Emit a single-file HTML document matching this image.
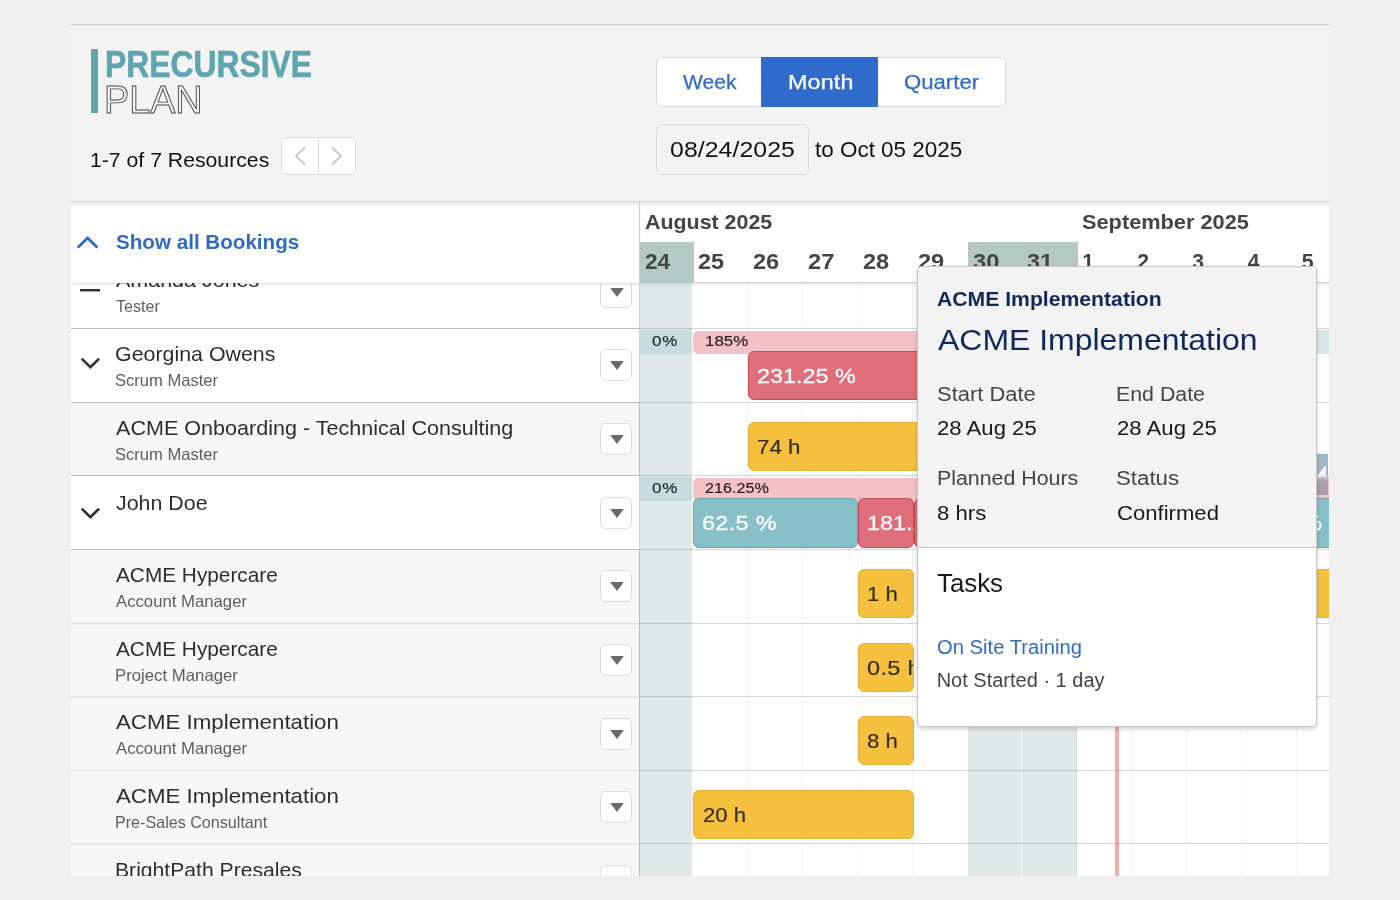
<!DOCTYPE html>
<html lang="en">
<head>
<meta charset="utf-8">
<title>Precursive Plan</title>
<style>
*{box-sizing:border-box;margin:0;padding:0}
html,body{width:1400px;height:900px;overflow:hidden}
body{background:#f0f0f0;font-family:"Liberation Sans",sans-serif;position:relative}
.layer{position:absolute;left:0;top:0;width:1400px;height:900px;overflow:hidden}
.layer>div,.layer>span,.layer>svg{position:absolute}
.t{white-space:nowrap;display:block;transform-origin:0 50%}
#rows{clip-path:inset(202px 71px 24px 71px)}
#header{clip-path:inset(24px 71px 24px 71px)}
.bar{border-radius:6px;border:1px solid}
.btn{background:#fff;border:1px solid #dcdcdc;border-radius:6px}

</style>
</head>
<body>
<div class="layer" id="panel">
<div style="left:71px;top:24px;width:1258px;height:852px;background:#f3f3f3;border-top:1px solid #cdcdcd;"></div>
<div style="left:71px;top:201px;width:1258px;height:675px;background:#fff;border-top:1px solid #d9d9d9;box-shadow:inset 0 4px 4px -2px rgba(0,0,0,.13);"></div>
</div>
<div class="layer" id="rows">
<div style="left:640px;top:283px;width:52px;height:593px;background:#e0e9e8;"></div>
<div style="left:968px;top:283px;width:109px;height:593px;background:#e0e9e8;"></div>
<div style="left:747px;top:283px;width:1px;height:593px;background:#f3f3f3;"></div>
<div style="left:802px;top:283px;width:1px;height:593px;background:#f3f3f3;"></div>
<div style="left:857px;top:283px;width:1px;height:593px;background:#f3f3f3;"></div>
<div style="left:912px;top:283px;width:1px;height:593px;background:#f3f3f3;"></div>
<div style="left:1021px;top:283px;width:1px;height:593px;background:#f1f5f5;"></div>
<div style="left:1076px;top:283px;width:1px;height:593px;background:#d9dedd;"></div>
<div style="left:1131px;top:283px;width:1px;height:593px;background:#f3f3f3;"></div>
<div style="left:1186px;top:283px;width:1px;height:593px;background:#f3f3f3;"></div>
<div style="left:1241px;top:283px;width:1px;height:593px;background:#f3f3f3;"></div>
<div style="left:1296px;top:283px;width:1px;height:593px;background:#f3f3f3;"></div>
<div style="left:1115px;top:283px;width:4px;height:593px;background:#f2adab;"></div>
<div style="left:71px;top:255px;width:569px;height:74px;background:#ffffff;"></div>
<div style="left:71px;top:328px;width:569px;height:76px;background:#ffffff;"></div>
<div style="left:71px;top:403px;width:569px;height:74px;background:#f7f7f7;"></div>
<div style="left:71px;top:476px;width:569px;height:75px;background:#ffffff;"></div>
<div style="left:71px;top:550px;width:569px;height:75px;background:#f7f7f7;"></div>
<div style="left:71px;top:624px;width:569px;height:74px;background:#f7f7f7;"></div>
<div style="left:71px;top:697px;width:569px;height:75px;background:#f7f7f7;"></div>
<div style="left:71px;top:771px;width:569px;height:74px;background:#f7f7f7;"></div>
<div style="left:71px;top:844px;width:569px;height:33px;background:#f7f7f7;"></div>
<div style="left:71px;top:328px;width:569px;height:1px;background:#bebebe;"></div>
<div style="left:640px;top:328px;width:689px;height:1px;background:rgba(0,0,0,.155);"></div>
<span class="t" style="left:116.26px;top:269.00px;font-size:21px;line-height:21px;color:#2e2e2e;transform:scaleX(1.0226);">Amanda Jones</span>
<span class="t" style="left:116.21px;top:298.00px;font-size:16.5px;line-height:16.5px;color:#5e5e5e;transform:scaleX(0.9741);">Tester</span>
<div class="btn" style="left:600px;top:276px;width:32px;height:32px"></div>
<svg style="left:609.6px;top:288px" width="14" height="9" viewBox="0 0 14 9"><path d="M0.2 0 H13.8 L7 9 Z" fill="#6a6a6a"/></svg>
<div style="left:80px;top:289px;width:20px;height:2px;background:#333;"></div>
<div style="left:80px;top:291px;width:20px;height:1px;background:rgba(51,51,51,.45);"></div>
<div style="left:71px;top:402px;width:569px;height:1px;background:#bebebe;"></div>
<div style="left:640px;top:402px;width:689px;height:1px;background:rgba(0,0,0,.155);"></div>
<span class="t" style="left:115.31px;top:343.00px;font-size:21px;line-height:21px;color:#2e2e2e;transform:scaleX(1.0182);">Georgina Owens</span>
<span class="t" style="left:115.37px;top:372.00px;font-size:16.5px;line-height:16.5px;color:#5e5e5e;transform:scaleX(1.0029);">Scrum Master</span>
<div class="btn" style="left:600px;top:349px;width:32px;height:32px"></div>
<svg style="left:609.6px;top:361px" width="14" height="9" viewBox="0 0 14 9"><path d="M0.2 0 H13.8 L7 9 Z" fill="#6a6a6a"/></svg>
<svg style="left:80px;top:357.1px" width="21" height="13" viewBox="0 0 21 13"><path d="M2.4 2.3 L10.4 10.2 L18.4 2.3" fill="none" stroke="#303030" stroke-width="2.6" stroke-linecap="round" stroke-linejoin="miter"/></svg>
<div style="left:71px;top:475px;width:569px;height:1px;background:#bebebe;"></div>
<div style="left:640px;top:475px;width:689px;height:1px;background:rgba(0,0,0,.155);"></div>
<span class="t" style="left:116.26px;top:417.00px;font-size:21px;line-height:21px;color:#2e2e2e;transform:scaleX(1.0263);">ACME Onboarding - Technical Consulting</span>
<span class="t" style="left:115.37px;top:446.00px;font-size:16.5px;line-height:16.5px;color:#5e5e5e;transform:scaleX(1.0029);">Scrum Master</span>
<div class="btn" style="left:600px;top:423px;width:32px;height:32px"></div>
<svg style="left:609.6px;top:435px" width="14" height="9" viewBox="0 0 14 9"><path d="M0.2 0 H13.8 L7 9 Z" fill="#6a6a6a"/></svg>
<div style="left:71px;top:549px;width:569px;height:1px;background:#bebebe;"></div>
<div style="left:640px;top:549px;width:689px;height:1px;background:rgba(0,0,0,.155);"></div>
<span class="t" style="left:116.11px;top:492.00px;font-size:21px;line-height:21px;color:#2e2e2e;transform:scaleX(1.0195);">John Doe</span>
<div class="btn" style="left:600px;top:497px;width:32px;height:32px"></div>
<svg style="left:609.6px;top:509px" width="14" height="9" viewBox="0 0 14 9"><path d="M0.2 0 H13.8 L7 9 Z" fill="#6a6a6a"/></svg>
<svg style="left:80px;top:506.8px" width="21" height="13" viewBox="0 0 21 13"><path d="M2.4 2.3 L10.4 10.2 L18.4 2.3" fill="none" stroke="#303030" stroke-width="2.6" stroke-linecap="round" stroke-linejoin="miter"/></svg>
<div style="left:71px;top:623px;width:569px;height:1px;background:#dadada;opacity:0.76;"></div>
<div style="left:71px;top:624px;width:569px;height:1px;background:#dadada;opacity:0.44;"></div>
<div style="left:640px;top:623px;width:689px;height:1px;background:rgba(0,0,0,.155);"></div>
<span class="t" style="left:116.26px;top:564.00px;font-size:21px;line-height:21px;color:#2e2e2e;transform:scaleX(0.9903);">ACME Hypercare</span>
<span class="t" style="left:116.27px;top:593.00px;font-size:16.5px;line-height:16.5px;color:#5e5e5e;transform:scaleX(1.0129);">Account Manager</span>
<div class="btn" style="left:600px;top:570px;width:32px;height:32px"></div>
<svg style="left:609.6px;top:582px" width="14" height="9" viewBox="0 0 14 9"><path d="M0.2 0 H13.8 L7 9 Z" fill="#6a6a6a"/></svg>
<div style="left:71px;top:696px;width:569px;height:1px;background:#dadada;opacity:0.60;"></div>
<div style="left:71px;top:697px;width:569px;height:1px;background:#dadada;opacity:0.60;"></div>
<div style="left:640px;top:696px;width:689px;height:1px;background:rgba(0,0,0,.155);"></div>
<span class="t" style="left:116.26px;top:638.00px;font-size:21px;line-height:21px;color:#2e2e2e;transform:scaleX(0.9903);">ACME Hypercare</span>
<span class="t" style="left:115.20px;top:667.00px;font-size:16.5px;line-height:16.5px;color:#5e5e5e;transform:scaleX(1.0153);">Project Manager</span>
<div class="btn" style="left:600px;top:644px;width:32px;height:32px"></div>
<svg style="left:609.6px;top:656px" width="14" height="9" viewBox="0 0 14 9"><path d="M0.2 0 H13.8 L7 9 Z" fill="#6a6a6a"/></svg>
<div style="left:71px;top:770px;width:569px;height:1px;background:#dadada;"></div>
<div style="left:640px;top:770px;width:689px;height:1px;background:rgba(0,0,0,.155);"></div>
<span class="t" style="left:116.25px;top:711.00px;font-size:21px;line-height:21px;color:#2e2e2e;transform:scaleX(1.0610);">ACME Implementation</span>
<span class="t" style="left:116.27px;top:740.00px;font-size:16.5px;line-height:16.5px;color:#5e5e5e;transform:scaleX(1.0129);">Account Manager</span>
<div class="btn" style="left:600px;top:718px;width:32px;height:32px"></div>
<svg style="left:609.6px;top:730px" width="14" height="9" viewBox="0 0 14 9"><path d="M0.2 0 H13.8 L7 9 Z" fill="#6a6a6a"/></svg>
<div style="left:71px;top:843px;width:569px;height:1px;background:#dadada;opacity:0.60;"></div>
<div style="left:71px;top:844px;width:569px;height:1px;background:#dadada;opacity:0.60;"></div>
<div style="left:640px;top:843px;width:689px;height:1px;background:rgba(0,0,0,.155);"></div>
<span class="t" style="left:116.25px;top:785.00px;font-size:21px;line-height:21px;color:#2e2e2e;transform:scaleX(1.0610);">ACME Implementation</span>
<span class="t" style="left:115.24px;top:814.00px;font-size:16.5px;line-height:16.5px;color:#5e5e5e;transform:scaleX(0.9766);">Pre-Sales Consultant</span>
<div class="btn" style="left:600px;top:791px;width:32px;height:32px"></div>
<svg style="left:609.6px;top:803px" width="14" height="9" viewBox="0 0 14 9"><path d="M0.2 0 H13.8 L7 9 Z" fill="#6a6a6a"/></svg>
<span class="t" style="left:114.99px;top:859.00px;font-size:21px;line-height:21px;color:#2e2e2e;transform:scaleX(1.0064);">BrightPath Presales</span>
<div class="btn" style="left:600px;top:865px;width:32px;height:32px"></div>
<svg style="left:609.6px;top:877px" width="14" height="9" viewBox="0 0 14 9"><path d="M0.2 0 H13.8 L7 9 Z" fill="#6a6a6a"/></svg>
<div style="left:640px;top:330px;width:52px;height:24px;background:#c6dddc;"></div>
<span class="t" style="left:651.91px;top:333.00px;font-size:15px;line-height:15px;color:#1f2a2a;letter-spacing:0.673px;transform:scaleX(1.1300);-webkit-text-stroke:0.2px #1f2a2a;">0%</span>
<div style="left:693px;top:331px;width:384px;height:23px;background:#f3c2c7;border-radius:5px 0 0 5px;"></div>
<div style="left:1077px;top:330px;width:252px;height:24px;background:#d5e8e8;"></div>
<span class="t" style="left:704.61px;top:333.00px;font-size:15px;line-height:15px;color:#2a1c1e;transform:scaleX(1.1239);-webkit-text-stroke:0.2px #2a1c1e;">185%</span>
<div class="bar" style="left:748px;top:351px;width:548px;height:49px;background:#de6e79;border-color:#c14c59;"></div>
<span class="t" style="left:757.06px;top:366.00px;font-size:20.8px;line-height:20.8px;color:#fff;transform:scaleX(1.1233);-webkit-text-stroke:0.3px #fff;">231.25 %</span>
<div class="bar" style="left:748px;top:422px;width:548px;height:49px;background:#f4c03e;border-color:#e3b13a;"></div>
<span class="t" style="left:757.10px;top:437.00px;font-size:20.8px;line-height:20.8px;color:#352b19;transform:scaleX(1.0711);-webkit-text-stroke:0.18px #352b19;">74 h</span>
<div style="left:640px;top:477px;width:52px;height:24px;background:#c6dddc;"></div>
<span class="t" style="left:651.91px;top:480.00px;font-size:15px;line-height:15px;color:#1f2a2a;letter-spacing:0.673px;transform:scaleX(1.1300);-webkit-text-stroke:0.2px #1f2a2a;">0%</span>
<div style="left:693px;top:478px;width:384px;height:23px;background:#f3c2c7;border-radius:5px 0 0 5px;"></div>
<div style="left:1077px;top:477px;width:252px;height:24px;background:#f3c2c7;"></div>
<span class="t" style="left:705.48px;top:480.00px;font-size:15px;line-height:15px;color:#2a1c1e;transform:scaleX(1.0785);-webkit-text-stroke:0.2px #2a1c1e;">216.25%</span>
<div class="bar" style="left:693px;top:498px;width:165px;height:50px;background:#86bfc6;border-color:#6aa2aa;"></div>
<span class="t" style="left:701.52px;top:513.00px;font-size:20.8px;line-height:20.8px;color:#fff;letter-spacing:0.244px;transform:scaleX(1.1300);-webkit-text-stroke:0.3px #fff;">62.5 %</span>
<div class="bar" style="left:858px;top:498px;width:56px;height:50px;background:#de6e79;border-color:#c14c59;"></div>
<div style="left:866px;top:509.00px;width:48px;height:28.8px;overflow:hidden"><span class="t" style="position:absolute;left:0.66px;top:4px;font-size:20.8px;line-height:20.8px;color:#fff;transform:scaleX(1.1255);-webkit-text-stroke:0.3px #fff;">181.25 %</span></div>
<div class="bar" style="left:914px;top:498px;width:55px;height:50px;background:#de6e79;border-color:#c14c59;"></div>
<div class="bar" style="left:1250px;top:498px;width:90px;height:50px;background:#86bfc6;border-color:#6aa2aa;"></div>
<div style="left:1317px;top:508px;width:12px;height:30px;overflow:hidden"><span class="t" style="position:absolute;left:-13.6px;top:5px;font-size:20.8px;line-height:20.8px;color:#fff;-webkit-text-stroke:0.3px #fff">%</span></div>
<div style="left:1317px;top:454px;width:11px;height:41px;background:linear-gradient(#9fb6c6 0%,#a3b4c3 50%,#c9c2cc 56%,#ab9fab 68%,#aa9daa 100%);"></div>
<svg style="left:1317px;top:464px" width="11" height="13" viewBox="0 0 11 13"><path d="M0.3 11.5 L9 1 L9 12.5 L0.3 12.5 Z" fill="#f2f2f5"/></svg>
<div class="bar" style="left:858px;top:569px;width:56px;height:49px;background:#f4c03e;border-color:#e3b13a;"></div>
<span class="t" style="left:866.89px;top:584.00px;font-size:20.8px;line-height:20.8px;color:#352b19;transform:scaleX(1.0623);-webkit-text-stroke:0.18px #352b19;">1 h</span>
<div class="bar" style="left:1297px;top:569px;width:43px;height:49px;background:#f4c03e;border-color:#e3b13a;"></div>
<div class="bar" style="left:858px;top:643px;width:56px;height:49px;background:#f4c03e;border-color:#e3b13a;"></div>
<div style="left:865.7px;top:654.00px;width:47px;height:28.8px;overflow:hidden"><span class="t" style="position:absolute;left:0.87px;top:4px;font-size:20.8px;line-height:20.8px;color:#352b19;letter-spacing:0.287px;transform:scaleX(1.1300);-webkit-text-stroke:0.18px #352b19;">0.5 h</span></div>
<div class="bar" style="left:858px;top:716px;width:56px;height:49px;background:#f4c03e;border-color:#e3b13a;"></div>
<span class="t" style="left:866.63px;top:731.00px;font-size:20.8px;line-height:20.8px;color:#352b19;transform:scaleX(1.0642);-webkit-text-stroke:0.18px #352b19;">8 h</span>
<div class="bar" style="left:693px;top:790px;width:221px;height:49px;background:#f4c03e;border-color:#e3b13a;"></div>
<span class="t" style="left:702.51px;top:805.00px;font-size:20.8px;line-height:20.8px;color:#352b19;transform:scaleX(1.0631);-webkit-text-stroke:0.18px #352b19;">20 h</span>
</div>
<div class="layer" id="header">
<div style="left:71px;top:202px;width:569px;height:81px;background:#fff;box-shadow:inset 0 4px 4px -2px rgba(0,0,0,.13),0 2px 3px -1px rgba(0,0,0,.16);"></div>
<svg style="left:76px;top:235px" width="24" height="14" viewBox="0 0 24 14"><path d="M2.6 11.8 L11.6 2.9 L20.6 11.8" fill="none" stroke="#2f6bc6" stroke-width="2.8" stroke-linecap="round" stroke-linejoin="miter"/></svg>
<span class="t" style="left:115.56px;top:231.00px;font-size:21px;line-height:21px;color:#2f6bc6;font-weight:700;transform:scaleX(0.9815);">Show all Bookings</span>
<div style="left:640px;top:202px;width:689px;height:81px;background:#fff;border-bottom:1px solid #c9c9c9;box-shadow:inset 0 4px 4px -2px rgba(0,0,0,.13),0 2px 3px rgba(0,0,0,.07);"></div>
<div style="left:640px;top:242px;width:54px;height:41px;background:#b4c8c4;"></div>
<div style="left:968px;top:242px;width:110px;height:41px;background:#b4c8c4;"></div>
<span class="t" style="left:644.76px;top:212.00px;font-size:20.5px;line-height:20.5px;color:#444444;font-weight:700;transform:scaleX(1.0433);">August 2025</span>
<span class="t" style="left:1082.28px;top:212.00px;font-size:20.5px;line-height:20.5px;color:#444444;font-weight:700;transform:scaleX(1.0610);">September 2025</span>
<span class="t" style="left:644.63px;top:251.00px;font-size:21.2px;line-height:21.2px;color:#444444;font-weight:700;transform:scaleX(1.0701);">24</span>
<span class="t" style="left:698.39px;top:251.00px;font-size:21.2px;line-height:21.2px;color:#444444;font-weight:700;transform:scaleX(1.1079);">25</span>
<span class="t" style="left:753.24px;top:251.00px;font-size:21.2px;line-height:21.2px;color:#444444;font-weight:700;transform:scaleX(1.1123);">26</span>
<span class="t" style="left:808.09px;top:251.00px;font-size:21.2px;line-height:21.2px;color:#444444;font-weight:700;transform:scaleX(1.1148);">27</span>
<span class="t" style="left:862.94px;top:251.00px;font-size:21.2px;line-height:21.2px;color:#444444;font-weight:700;transform:scaleX(1.1095);">28</span>
<span class="t" style="left:917.79px;top:251.00px;font-size:21.2px;line-height:21.2px;color:#444444;font-weight:700;transform:scaleX(1.1123);">29</span>
<span class="t" style="left:972.64px;top:251.00px;font-size:21.2px;line-height:21.2px;color:#444444;font-weight:700;transform:scaleX(1.1141);">30</span>
<span class="t" style="left:1027.49px;top:251.00px;font-size:21.2px;line-height:21.2px;color:#444444;font-weight:700;transform:scaleX(1.1065);">31</span>
<span class="t" style="left:1082.28px;top:251.00px;font-size:21.2px;line-height:21.2px;color:#444444;font-weight:700;">1</span>
<span class="t" style="left:1137.30px;top:251.00px;font-size:21.2px;line-height:21.2px;color:#444444;font-weight:700;">2</span>
<span class="t" style="left:1192.15px;top:251.00px;font-size:21.2px;line-height:21.2px;color:#444444;font-weight:700;">3</span>
<span class="t" style="left:1247.83px;top:251.00px;font-size:21.2px;line-height:21.2px;color:#444444;font-weight:700;">4</span>
<span class="t" style="left:1301.85px;top:251.00px;font-size:21.2px;line-height:21.2px;color:#444444;font-weight:700;">5</span>
<div style="left:639px;top:202px;width:1px;height:674px;background:#b9bcbc;"></div>
<div style="left:639px;top:255px;width:1px;height:73px;background:#d0d2d2;"></div>
<div style="left:639px;top:329px;width:1px;height:73px;background:#d0d2d2;"></div>
<div style="left:639px;top:476px;width:1px;height:73px;background:#d0d2d2;"></div>
<div style="left:639px;top:202px;width:1px;height:81px;background:#d0d2d2;"></div>
<div style="left:91px;top:49px;width:7.4px;height:64px;background:#5fa5b0;"></div>
<span class="t" style="left:104.60px;top:47.00px;font-size:36.3px;line-height:36.3px;color:#5fa5b0;font-weight:700;transform:scaleX(0.8773);-webkit-text-stroke:0.7px #5fa5b0;">PRECURSIVE</span>
<span class="t" style="left:103.52px;top:81.00px;font-size:38.2px;line-height:38.2px;color:transparent;transform:scaleX(0.9882);-webkit-text-stroke:0.9px #444;">PLAN</span>
<span class="t" style="left:89.78px;top:150.00px;font-size:20.6px;line-height:20.6px;color:#111;transform:scaleX(1.0302);">1-7 of 7 Resources</span>
<div class="btn" style="left:281px;top:137px;width:75px;height:38px;"></div>
<div style="left:318px;top:138px;width:1px;height:36px;background:#d8d8d8;"></div>
<svg style="left:293px;top:145px" width="14" height="22" viewBox="0 0 14 22"><path d="M11.6 2.6 L3 11 L11.6 19.4" fill="none" stroke="#cacaca" stroke-width="2" stroke-linecap="round" stroke-linejoin="round"/></svg>
<svg style="left:330px;top:145px" width="14" height="22" viewBox="0 0 14 22"><path d="M2.4 2.6 L11 11 L2.4 19.4" fill="none" stroke="#cacaca" stroke-width="2" stroke-linecap="round" stroke-linejoin="round"/></svg>
<div class="btn" style="left:656px;top:57px;width:350px;height:50px;"></div>
<div style="left:761px;top:57px;width:117px;height:50px;background:#2f6bcb;"></div>
<span class="t" style="left:682.53px;top:72.00px;font-size:20.6px;line-height:20.6px;color:#2f6bc6;transform:scaleX(1.0257);-webkit-text-stroke:0.25px #2f6bc6;">Week</span>
<span class="t" style="left:787.80px;top:72.00px;font-size:20.6px;line-height:20.6px;color:#fff;letter-spacing:0.175px;transform:scaleX(1.1300);-webkit-text-stroke:0.25px #fff;">Month</span>
<span class="t" style="left:903.91px;top:72.00px;font-size:20.6px;line-height:20.6px;color:#2f6bc6;transform:scaleX(1.0752);-webkit-text-stroke:0.25px #2f6bc6;">Quarter</span>
<div style="left:656px;top:124px;width:153px;height:51px;background:#f3f3f3;border:1px solid #dcdcdc;border-radius:6px;"></div>
<span class="t" style="left:669.87px;top:139.00px;font-size:22px;line-height:22px;color:#111;letter-spacing:0.046px;transform:scaleX(1.1300);">08/24/2025</span>
<span class="t" style="left:815.32px;top:139.00px;font-size:21.8px;line-height:21.8px;color:#111;transform:scaleX(1.0299);">to Oct 05 2025</span>
</div>
<div class="layer" id="popover">
<div style="left:917px;top:266px;width:400px;height:460.5px;background:#fff;border:1px solid #c6c6c6;border-radius:5px;box-shadow:0 2px 4px rgba(0,0,0,.18);overflow:hidden;"><div style="height:281px;background:#f3f3f3;border-bottom:1px solid #c9c9c9"></div></div>
<span class="t" style="left:936.94px;top:289.00px;font-size:20px;line-height:20px;color:#10295c;font-weight:700;transform:scaleX(1.0586);">ACME Implementation</span>
<span class="t" style="left:937.84px;top:325.00px;font-size:30.2px;line-height:30.2px;color:#10295c;transform:scaleX(1.0582);">ACME Implementation</span>
<span class="t" style="left:936.71px;top:384.00px;font-size:20px;line-height:20px;color:#444;transform:scaleX(1.0966);">Start Date</span>
<span class="t" style="left:1116.29px;top:384.00px;font-size:20px;line-height:20px;color:#444;transform:scaleX(1.0665);">End Date</span>
<span class="t" style="left:936.89px;top:418.00px;font-size:20px;line-height:20px;color:#181818;transform:scaleX(1.1068);">28 Aug 25</span>
<span class="t" style="left:1116.59px;top:418.00px;font-size:20px;line-height:20px;color:#181818;transform:scaleX(1.1068);">28 Aug 25</span>
<span class="t" style="left:936.59px;top:468.00px;font-size:20px;line-height:20px;color:#444;transform:scaleX(1.0674);">Planned Hours</span>
<span class="t" style="left:1116.39px;top:468.00px;font-size:20px;line-height:20px;color:#444;transform:scaleX(1.1131);">Status</span>
<span class="t" style="left:936.89px;top:503.00px;font-size:20px;line-height:20px;color:#181818;transform:scaleX(1.1084);">8 hrs</span>
<span class="t" style="left:1116.55px;top:503.00px;font-size:20px;line-height:20px;color:#181818;transform:scaleX(1.1049);">Confirmed</span>
<span class="t" style="left:937.31px;top:571.00px;font-size:25.6px;line-height:25.6px;color:#181818;transform:scaleX(1.0093);">Tasks</span>
<span class="t" style="left:936.99px;top:637.00px;font-size:20px;line-height:20px;color:#2f6bc6;transform:scaleX(1.0107);">On Site Training</span>
<span class="t" style="left:936.68px;top:670.00px;font-size:20px;line-height:20px;color:#444;">Not Started · 1 day</span>
</div>
</body>
</html>
